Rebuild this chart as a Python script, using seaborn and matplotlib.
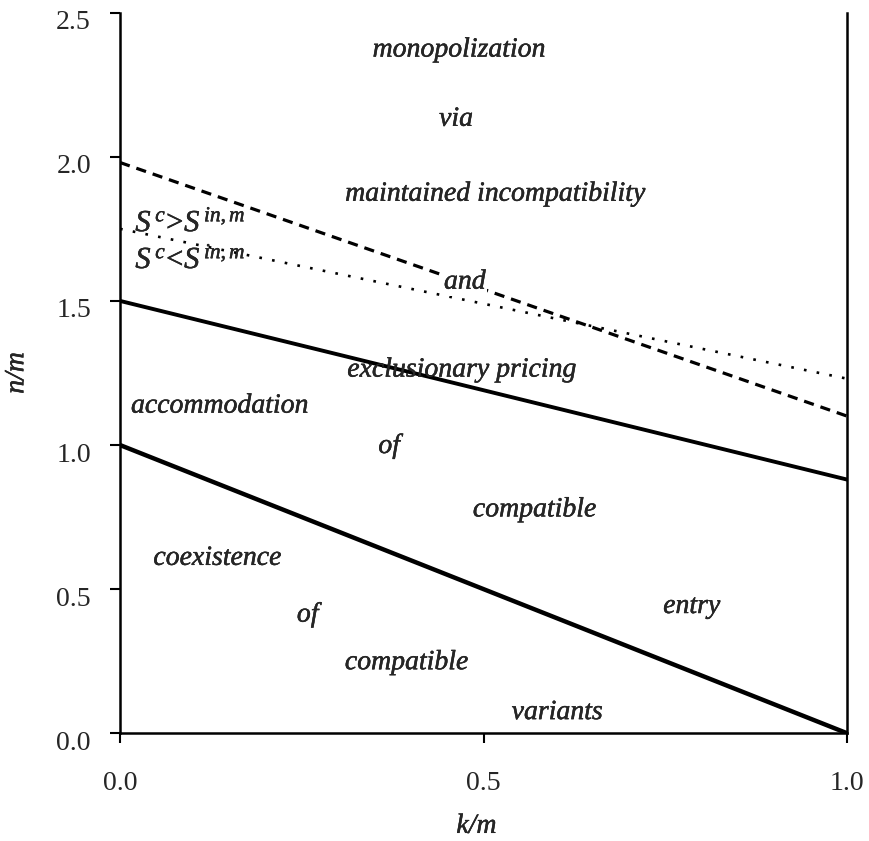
import pandas as pd
import matplotlib
matplotlib.use("Agg")
import matplotlib.pyplot as plt
import matplotlib.patheffects as pe
from matplotlib.transforms import ScaledTranslation
import seaborn as sns

# boundary lines (value at k/m = 0 and k/m = 1)
k_ends = [0.0, 1.0]
dashed_ends = [1.98, 1.10]
dotted_ends = [1.75, 1.23]
upper_solid_ends = [1.50, 0.88]
lower_solid_ends = [1.00, 0.00]

x_ticks = [0.0, 0.5, 1.0]
y_ticks = [0.0, 0.5, 1.0, 1.5, 2.0, 2.5]

region_words = ["monopolization", "via", "maintained incompatibility", "and",
                "exclusionary pricing", "accommodation", "of", "compatible", "entry",
                "coexistence", "of", "compatible", "variants"]
word_x = [0.466, 0.462, 0.516, 0.474, 0.470, 0.137, 0.370, 0.570, 0.786,
          0.134, 0.258, 0.394, 0.601]
word_y = [2.37, 2.13, 1.87, 1.565, 1.26, 1.135, 0.995, 0.775, 0.44,
          0.607, 0.41, 0.245, 0.072]

sns.set_theme(style="ticks")
plt.rcParams["font.family"] = ["Liberation Serif", "DejaVu Serif"]
plt.rcParams["mathtext.fontset"] = "custom"
plt.rcParams["mathtext.rm"] = "Liberation Serif"
plt.rcParams["mathtext.it"] = "Liberation Serif:italic"

df = pd.DataFrame({
    "k": k_ends * 4,
    "n": dashed_ends + dotted_ends + upper_solid_ends + lower_solid_ends,
    "line": ["dashed"] * 2 + ["dotted"] * 2 + ["upper"] * 2 + ["lower"] * 2,
})

fig = plt.figure(figsize=(8.7, 8.41), dpi=100)
ax = fig.add_axes([0.138, 0.128, 0.836, 0.857])

styles = {
    "dashed": dict(lw=2.3, ls=(0, (3.2, 2.2))),
    "dotted": dict(lw=1.9, ls=(0, (1.0, 3.9))),
    "upper": dict(lw=2.8, ls="-"),
    "lower": dict(lw=3.2, ls="-"),
}
for name, st in styles.items():
    sub = df[df["line"] == name]
    sns.lineplot(data=sub, x="k", y="n", ax=ax, color="black", legend=False,
                 linewidth=st["lw"], linestyle=st["ls"])

# the scanned original has slightly heavier lettering
ink = [pe.withStroke(linewidth=0.3, foreground="black")]
for w, x, y in zip(region_words, word_x, word_y):
    t = ax.text(x, y, w, ha="center", va="center", fontsize=20, style="italic",
                path_effects=ink, zorder=5)
    if w == "and":
        # the dashed boundary is interrupted behind this word
        t.set_bbox(dict(facecolor="white", edgecolor="none", pad=1))

ax.text(0.021, 1.768, r"$S^{\,c}\!>\!S^{\,in,m}$", ha="left", va="center",
        fontsize=22, path_effects=ink)
ax.text(0.021, 1.640, r"$S^{\,c}\!<\!S^{\,in,m}$", ha="left", va="center",
        fontsize=22, path_effects=ink)

ax.set_xlim(0, 1)
ax.set_ylim(0, 2.5)
ax.set_xticks(x_ticks)
ax.set_yticks(y_ticks)
ax.set_xticklabels([f"{v:.1f}" for v in x_ticks])
ax.set_yticklabels([f"{v:.1f}" for v in y_ticks])
ax.tick_params(axis="both", labelsize=20, length=7, width=1.5, color="black")
ax.tick_params(axis="x", pad=20)
ax.tick_params(axis="y", pad=14)
# y tick labels sit a little below their ticks in the original
shift = ScaledTranslation(0, -5 / 72, fig.dpi_scale_trans)
for lbl in ax.get_yticklabels():
    lbl.set_transform(lbl.get_transform() + shift)

ax.set_xlabel("k/m", fontsize=20, style="italic", va="center", path_effects=ink)
ax.set_ylabel("n/m", fontsize=20, style="italic", va="center", path_effects=ink)
ax.xaxis.set_label_coords(0.49, -0.129)
ax.yaxis.set_label_coords(-0.142, 0.5)

ax.spines["top"].set_visible(False)
for s in ["left", "bottom", "right"]:
    ax.spines[s].set_color("black")
    ax.spines[s].set_linewidth(1.8)

fig.savefig("out.png", dpi=100)
